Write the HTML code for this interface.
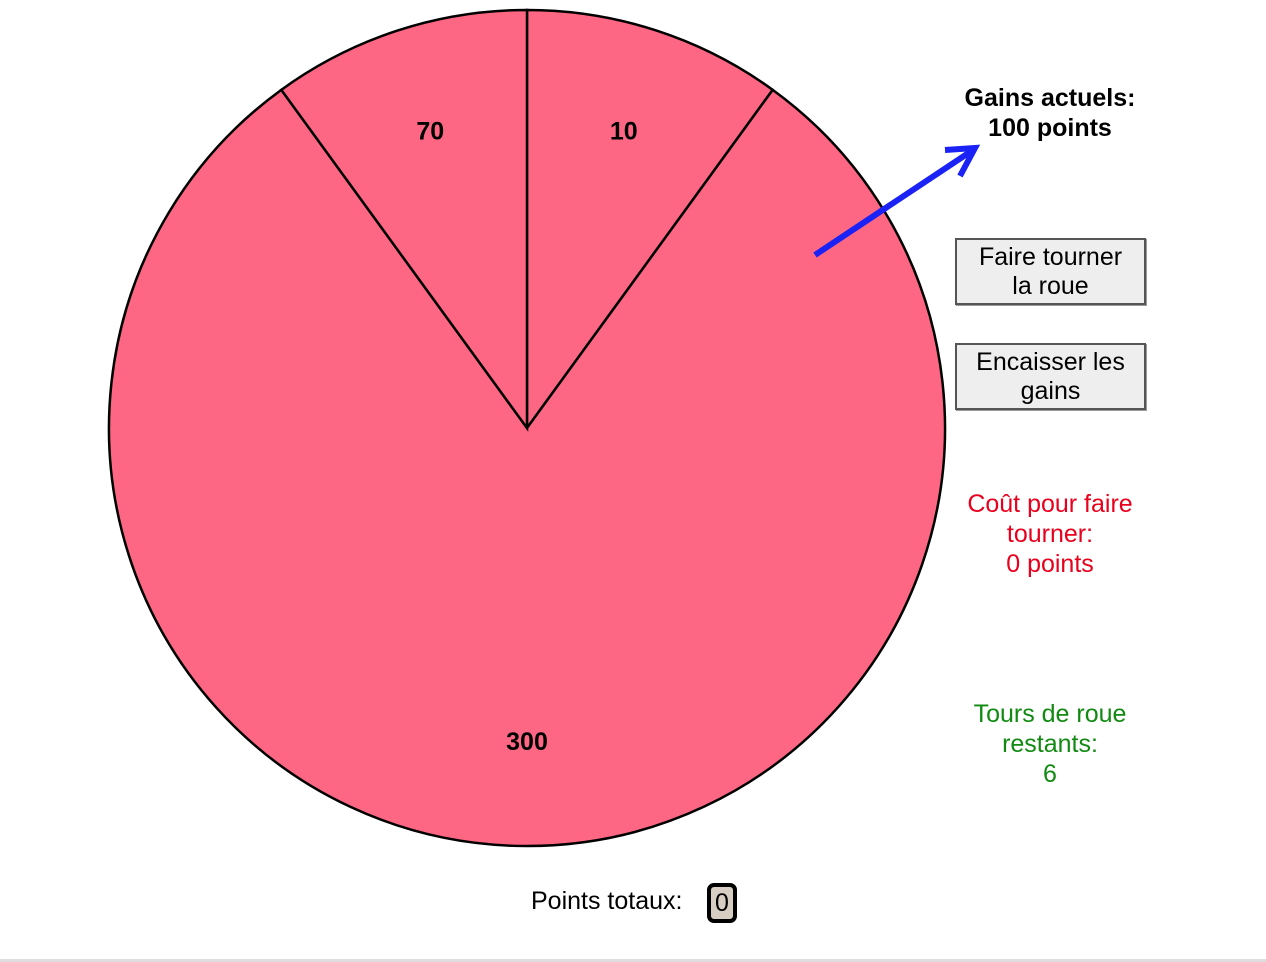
<!DOCTYPE html>
<html><head><meta charset="utf-8"><style>
body{margin:0;width:1266px;height:962px;background:#fff;font-family:"Liberation Sans",sans-serif;position:relative;overflow:hidden}
.t{position:absolute;text-align:center;width:240px;left:930px;font-size:25px;line-height:30px}
.btn{position:absolute;left:955px;width:191px;height:67px;background:#eee;border:2px solid #555;box-sizing:border-box;font-size:25px;line-height:29px;text-align:center;padding-top:3px;box-shadow:1px 1px 0 #999}
</style></head><body>
<svg id="chart" width="1266" height="962" style="position:absolute;left:0;top:0"></svg>
<div class="t" style="top:83px;font-weight:bold">Gains actuels:<br>100 points</div>
<div class="btn" style="top:238px">Faire tourner<br>la roue</div>
<div class="btn" style="top:343px">Encaisser les<br>gains</div>
<div class="t" style="top:489px;color:#e8001c">Coût pour faire<br>tourner:<br>0 points</div>
<div class="t" style="top:699px;color:#118a11">Tours de roue<br>restants:<br>6</div>
<div style="position:absolute;left:531px;top:887px;font-size:25px">Points totaux:</div>
<div style="position:absolute;left:707px;top:883px;width:22px;height:32px;border:4px solid #000;border-radius:7px;background:#d8cdc2;font-size:25px;line-height:32px;text-align:center">0</div>
<div style="position:absolute;left:0;top:959px;width:1266px;height:3px;background:#ddd"></div>
<script>
const labels=["10","300","70"];
const weights=[1,8,1];
const cx=527,cy=428,R=418;
const svg=document.getElementById('chart');
const NS='http://www.w3.org/2000/svg';
const total=weights.reduce((a,b)=>a+b,0);
function pt(a,r){return [cx+r*Math.sin(a),cy-r*Math.cos(a)];}
let a0=0;
weights.forEach((w,i)=>{
  const a1=a0+w/total*2*Math.PI;
  const p0=pt(a0,R),p1=pt(a1,R);
  const large=(a1-a0)>Math.PI?1:0;
  const p=document.createElementNS(NS,'path');
  p.setAttribute('d',`M${cx},${cy}L${p0[0]},${p0[1]}A${R},${R} 0 ${large} 1 ${p1[0]},${p1[1]}Z`);
  p.setAttribute('fill','#fd6784');p.setAttribute('stroke','#000');p.setAttribute('stroke-width','2.5');
  
  
  svg.appendChild(p);
  const m=pt((a0+a1)/2,313);
  const t=document.createElementNS(NS,'text');
  t.setAttribute('x',m[0]);t.setAttribute('y',m[1]+9);
  t.setAttribute('text-anchor','middle');t.setAttribute('font-weight','bold');t.setAttribute('font-size','25');
  t.setAttribute('font-family','Liberation Sans, sans-serif');
  t.textContent=labels[i];
  
  
  svg.appendChild(t);
  a0=a1;
});
const ar=document.createElementNS(NS,'g');
ar.innerHTML='<line x1="815" y1="255" x2="970" y2="152" stroke="#1a22f5" stroke-width="6"/><polyline points="945,150 975,148 960,176" fill="none" stroke="#1a22f5" stroke-width="6" stroke-linejoin="miter"/>';


svg.appendChild(ar);
</script>
</body></html>
